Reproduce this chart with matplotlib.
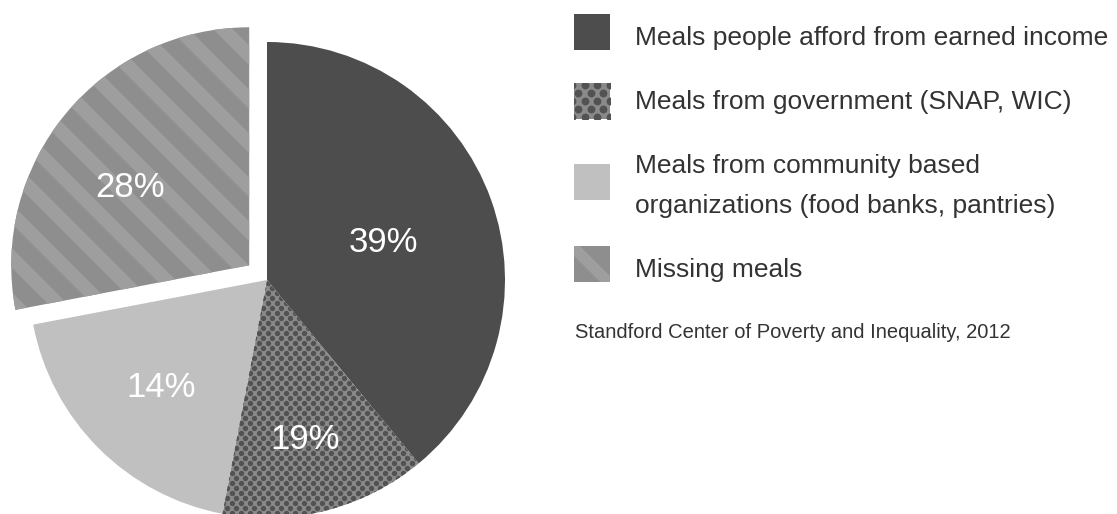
import numpy as np
import matplotlib
matplotlib.use("Agg")
import matplotlib.pyplot as plt
from matplotlib.patches import Rectangle

plt.rcParams['font.family'] = ['Liberation Sans', 'DejaVu Sans']

# ---- data ----
categories = ["Meals people afford from earned income",
              "Meals from government (SNAP, WIC)",
              "Meals from community based\norganizations (food banks, pantries)",
              "Missing meals"]
sizes = [39, 14, 19, 28]
pct_labels = ["39%", "19%", "14%", "28%"]
explode_frac = [0, 0, 0, 0.097]
source = "Standford Center of Poverty and Inequality, 2012"

# ---- style ----
W, H = 1117, 514
DARK = "#4d4d4d"
DOT_BG = "#8a8a8a"
DOT_FG = "#525252"
LIGHT = "#c0c0c0"
STRIPE_BG = "#8e8e8e"
STRIPE_FG = "#9e9e9e"
TEXT = "#333333"
label_frac = [0.513, 0.69, 0.635, 0.60]
label_dtheta = [-2.1, -1.0, 0.5, 6.4]

fig = plt.figure(figsize=(W / 100, H / 100), dpi=100)
ax = fig.add_axes([0, 0, 1, 1])

cx, cy, R = 267, H - 280, 238
wedges, _ = ax.pie(sizes, startangle=90, counterclock=False,
                   explode=[e * R for e in explode_frac],
                   colors=[DARK, DOT_BG, LIGHT, STRIPE_BG], radius=R,
                   center=(cx, cy), wedgeprops=dict(linewidth=0))
ax.set_xlim(0, W)
ax.set_ylim(0, H)
ax.set_aspect('equal')
ax.axis('off')


def add_dots(clip, x0, x1, y0, y1, dx, dy, s, zorder=3):
    pts = []
    row = 0
    y = y0
    while y <= y1:
        off = (dx / 2) if row % 2 else 0
        x = x0 + off
        while x <= x1:
            pts.append((x, y))
            x += dx
        y += dy
        row += 1
    pts = np.array(pts)
    sc = ax.scatter(pts[:, 0], pts[:, 1], s=s, c=DOT_FG, marker='o',
                    linewidths=0, zorder=zorder)
    sc.set_clip_path(clip)


def add_stripes(clip, x0, x1, y0, y1, period, lw, phase=0, zorder=3):
    cmin = x0 + y0 - 2 * period
    cmax = x1 + y1 + 2 * period
    c = cmin + phase
    while c <= cmax:
        ln, = ax.plot([c - y1 - 50, c - y0 + 50], [y1 + 50, y0 - 50],
                      color=STRIPE_FG, lw=lw, solid_capstyle='butt',
                      zorder=zorder)
        ln.set_clip_path(clip)
        c += period


# patterns on pie
add_dots(wedges[1], cx - R, cx + R, cy - R, cy + R, 9.0, 5.0, 15)
w_str = wedges[3]
sx, sy = w_str.center
add_stripes(w_str, sx - R - 40, sx + 40, sy - 40, sy + R + 40, 44, 10.0)

# percentage labels
for w, lab, fr, dt in zip(wedges, pct_labels, label_frac, label_dtheta):
    th = np.deg2rad((w.theta1 + w.theta2) / 2 + dt)
    wx, wy = w.center
    ax.text(wx + fr * w.r * np.cos(th), wy + fr * w.r * np.sin(th), lab,
            color='white', fontsize=25, ha='center', va='center', zorder=5)

# legend (manual)
sq_x, sq_w = 574, 36
sq_tops = [14, 83, 164, 246]
baselines = [[45], [109], [173, 213], [277]]
for i, (cat, top, bl) in enumerate(zip(categories, sq_tops, baselines)):
    y_bot = H - top - sq_w
    face = [DARK, DOT_BG, LIGHT, STRIPE_BG][i]
    rect = Rectangle((sq_x, y_bot), sq_w, sq_w, facecolor=face,
                     linewidth=0, zorder=2)
    ax.add_patch(rect)
    if i == 1:
        add_dots(rect, sq_x - 2, sq_x + sq_w + 6, y_bot + 2, y_bot + sq_w + 4,
                 12.5, 8.0, 32)
    if i == 3:
        add_stripes(rect, sq_x, sq_x + sq_w, y_bot, y_bot + sq_w, 60, 8.0,
                    phase=(sq_x + y_bot + sq_w) - (sq_x + y_bot - 120) - 2)
    for j, line in enumerate(cat.split("\n")):
        ax.text(635, H - bl[j], line, fontsize=19, color=TEXT,
                ha='left', va='baseline')

ax.text(575, H - 338, source, fontsize=14.5, color=TEXT, ha='left',
        va='baseline')

fig.savefig("out.png", dpi=100)
